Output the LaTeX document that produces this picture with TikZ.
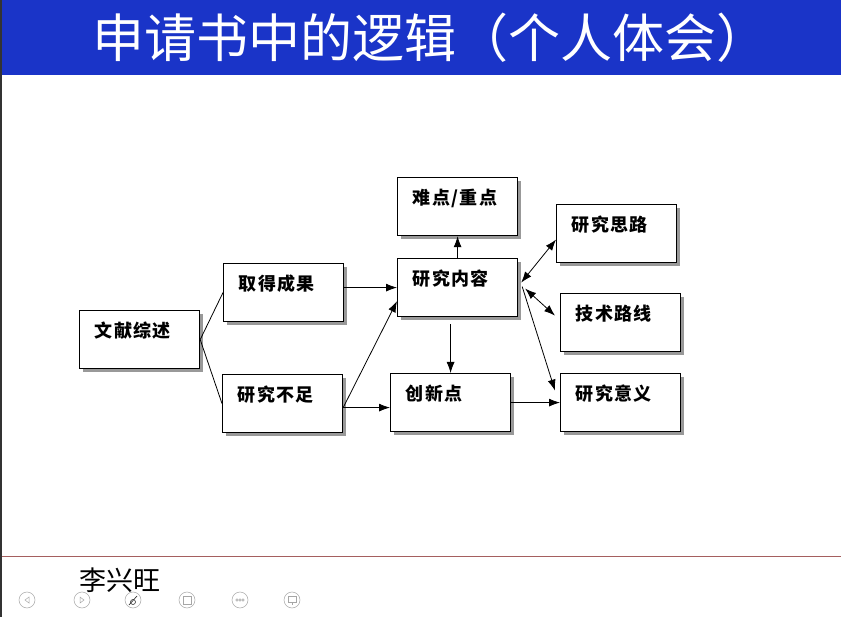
\documentclass[tikz,border=0pt]{standalone}
\usepackage{fontspec}
\newfontfamily\cjk{Noto Sans CJK SC}
\newfontfamily\cjkbox[LetterSpace=8]{Noto Sans CJK SC}
\usetikzlibrary{arrows.meta,shadows}
\definecolor{titleblue}{RGB}{26,52,200}
\definecolor{rulered}{RGB}{165,95,95}

\begin{document}
\begin{tikzpicture}[x=1pt,y=-1pt,>={Latex[length=11pt,width=8pt]},
        blk/.style={draw,line width=1.2pt,fill=white,
          drop shadow={shadow xshift=3pt,shadow yshift=-3pt,fill=black!40,opacity=1},
          anchor=north west,inner xsep=15pt,inner ysep=0pt,
          text width=90pt,align=left,text height=27pt,text depth=31pt,
          font=\cjkbox\bfseries\fontsize{18}{18}\selectfont},
        link/.style={line width=0.8pt},
        navbtn/.style={draw=black!35,line width=0.5pt}]

  \useasboundingbox (0,0) rectangle (841,617);
  \fill[white] (0,0) rectangle (841,617);

  % title bar
  \fill[titleblue] (0,0) rectangle (841,75);
  \fill[black!80] (0,0) rectangle (2,617);
  \node[anchor=west,inner sep=0pt,text=white,font=\cjk\fontsize{52}{52}\selectfont]
    (title) at (92,38) {申请书中的逻辑（个人体会）};

  % boxes
  \node[blk] (wx) at (79,310) {文献综述};
  \node[blk] (qd) at (223,263) {取得成果};
  \node[blk] (bz) at (222,374) {研究不足};
  \node[blk] (nd) at (397,177) {难点/重点};
  \node[blk] (nr) at (397,258) {研究内容};
  \node[blk] (cx) at (390,373) {创新点};
  \node[blk] (sl) at (556,204) {研究思路};
  \node[blk] (jl) at (560,293) {技术路线};
  \node[blk] (yy) at (560,373) {研究意义};

  % connectors
  \draw[link] (wx.east) -- (qd.west);
  \draw[link] (wx.east) -- (bz.west);
  \draw[link,->] (qd.east |- nr.west) -- (nr.west);
  \draw[link,->] ([yshift=-4pt]bz.east) -- ([yshift=16pt]nr.south west);
  \draw[link,->] ([yshift=-4pt]bz.east) -- ([yshift=-4pt]bz.east -| cx.west);
  \draw[link,->] (nr.north) -- (nd.south);
  \draw[link,->] ([yshift=-7pt]nr.south -| cx.north) -- (cx.north);
  \draw[link,<->] ([shift={(3pt,5pt)}]nr.east) -- ([yshift=-6pt]sl.west);
  \draw[link,<->] ([shift={(7pt,-1pt)}]nr.east) -- ([shift={(-5pt,7pt)}]jl.west);
  \draw[link,->] ([shift={(4pt,1pt)}]nr.east) -- ([shift={(-5pt,12pt)}]yy.west);
  \draw[link,->] (cx.east) -- (cx.east -| yy.west);

  % footer
  \draw[rulered,line width=0.8pt] (2,556) -- (841,556);
  \node[anchor=west,inner sep=0pt,font=\cjk\fontsize{27}{27}\selectfont]
    (author) at (79,580) {李兴旺};
  \foreach \x in {27,82,133,187,240,292}
    \draw[navbtn] (\x,600) circle (8pt);
  \draw[navbtn] (29,597) -- (25,600) -- (29,603) -- cycle;
  \draw[navbtn] (80,597) -- (84,600) -- (80,603) -- cycle;
  \draw[black!80,line width=0.7pt] (129,605) -- (137,596);
  \draw[black!80,line width=0.6pt] (133,602) circle (2.5pt);
  \draw[navbtn] (183,596) rectangle (191,604);
  \foreach \d in {-3,0,3}
    \draw[navbtn] (240+\d,600) circle (1.2pt);
  \draw[navbtn] (288,596) rectangle (296,602);
  \draw[navbtn] (292,602) -- (292,605);
\end{tikzpicture}
\end{document}
